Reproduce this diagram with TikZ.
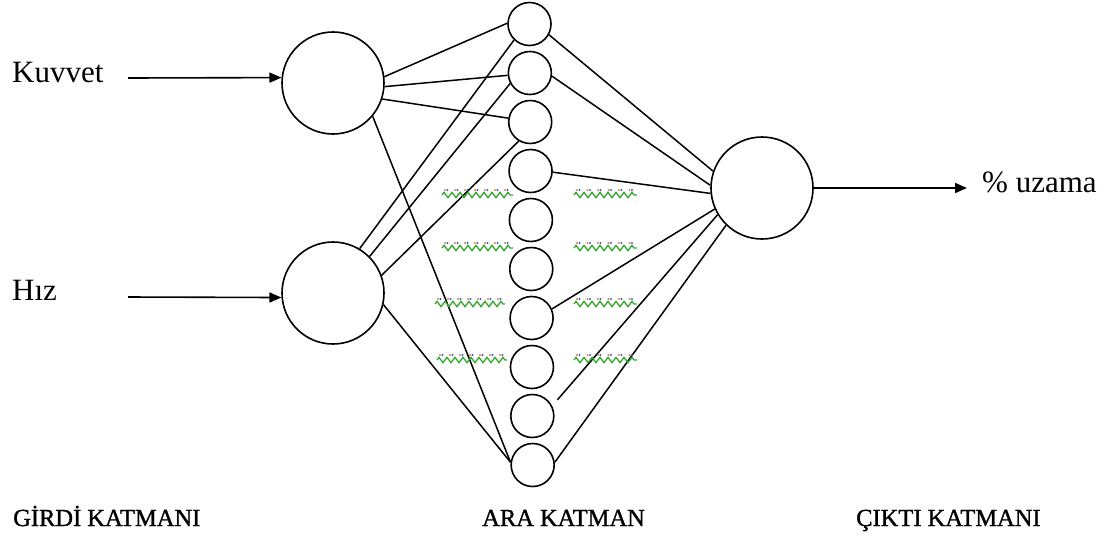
\documentclass[tikz,border=0pt]{standalone}
\usepackage{fontspec}
\setmainfont{Liberation Serif}
\newfontfamily\capfont[FakeBold=1.2]{Liberation Serif}
\usetikzlibrary{arrows.meta,decorations.pathmorphing}
\definecolor{sqgreen}{RGB}{60,170,55}
\definecolor{sqor}{RGB}{220,130,60}
\definecolor{sqbl}{RGB}{60,90,200}
\begin{document}
\begin{tikzpicture}[x=1pt,y=-1pt,
  big/.style={circle,draw,line width=1.6pt,minimum size=102pt,inner sep=0pt},
  hid/.style={circle,draw,line width=1.6pt,minimum size=43pt,inner sep=0pt},
  conn/.style={line width=1.5pt},
  arr/.style={line width=1.6pt,-{Triangle[length=12pt,width=10pt]}},
  lbl/.style={font=\fontsize{31}{36}\selectfont,anchor=base west,inner sep=0pt},
  capt/.style={font=\capfont\fontsize{24.5}{28}\selectfont,anchor=base west,inner sep=0pt},
  squig/.style={draw=sqgreen,line width=1.4pt,decorate,decoration={zigzag,amplitude=2.6pt,segment length=8pt}}]
\useasboundingbox (0,0) rectangle (1105,539);
% input layer
\node[big] (I1) at (333,83) {};
\node[big] (I2) at (333,293) {};
% hidden layer
\foreach \i in {1,...,10} {
  \node[hid] (H\i) at ({529.5+0.35*(\i-1)},{24+49*(\i-1)}) {};
}
% output
\node[big] (O) at (762,188) {};
% labels
\node[lbl] (kuv) at (12,82) {Kuvvet};
\node[lbl] (hiz) at (12,300) {Hız};
\node[lbl] (uz) at (982,192) {\% uzama};
\node[capt] (c1) at (13,526) {GİRDİ KATMANI};
\node[capt] (c2) at (482,526) {ARA KATMAN};
\node[capt] (c3) at (856,526) {ÇIKTI KATMANI};
% input arrows
\coordinate (kuvs) at (128,78);
\coordinate (hizs) at (128,297);
\coordinate (outend) at (967,188);
\draw[arr] (kuvs) -- (I1.174);
\draw[arr] (hizs) -- (I2.185);
\draw[arr] (O.east) -- (outend);
% input to hidden
\draw[conn] (I1.7) -- (H1.178);
\draw[conn] (I1.-4) -- (H2.186);
\draw[conn] (I1.-18) -- (H3.170);
\draw[conn] (I1.-40) -- (H10.173);
\draw[conn] (I2.59) -- (H1.226);
\draw[conn] (I2.45) -- (H2.208);
\draw[conn] (I2.20) -- (H3.239);
\draw[conn] (I2.-13) -- (H10.173);
% hidden to output
\draw[conn] (H1.-29) -- (O.161);
\draw[conn] (H2.-8) -- (O.177);
\draw[conn] (H4.-3) -- (O.186);
\draw[conn] (H7.24) -- (O.204);
\draw[conn,shorten <=8pt] (H9.27) -- (O.211);
\draw[conn] (H10.7) -- (O.226);
% spelling squiggles
\foreach \xa/\xb/\y in {442/513/195,442/513/248,435/505/304,437/507/360} {
  \draw[squig] (\xa,\y) -- (\xb,\y);
  \foreach \k in {0,...,6} {
    \fill[sqor] ({\xa+3+\k*10},\y-5) circle (1.1pt);
    \fill[sqbl] ({\xa+5.5+\k*10},\y-5) circle (1.1pt);
  }
}
\foreach \xa/\xb/\y in {574/637/195,574/637/248,574/637/304,574/637/360} {
  \draw[squig] (\xa,\y) -- (\xb,\y);
  \foreach \k in {0,...,5} {
    \fill[sqor] ({\xa+3+\k*10.5},\y-5) circle (1.1pt);
    \fill[sqbl] ({\xa+5.5+\k*10.5},\y-5) circle (1.1pt);
  }
}
\end{tikzpicture}
\end{document}
